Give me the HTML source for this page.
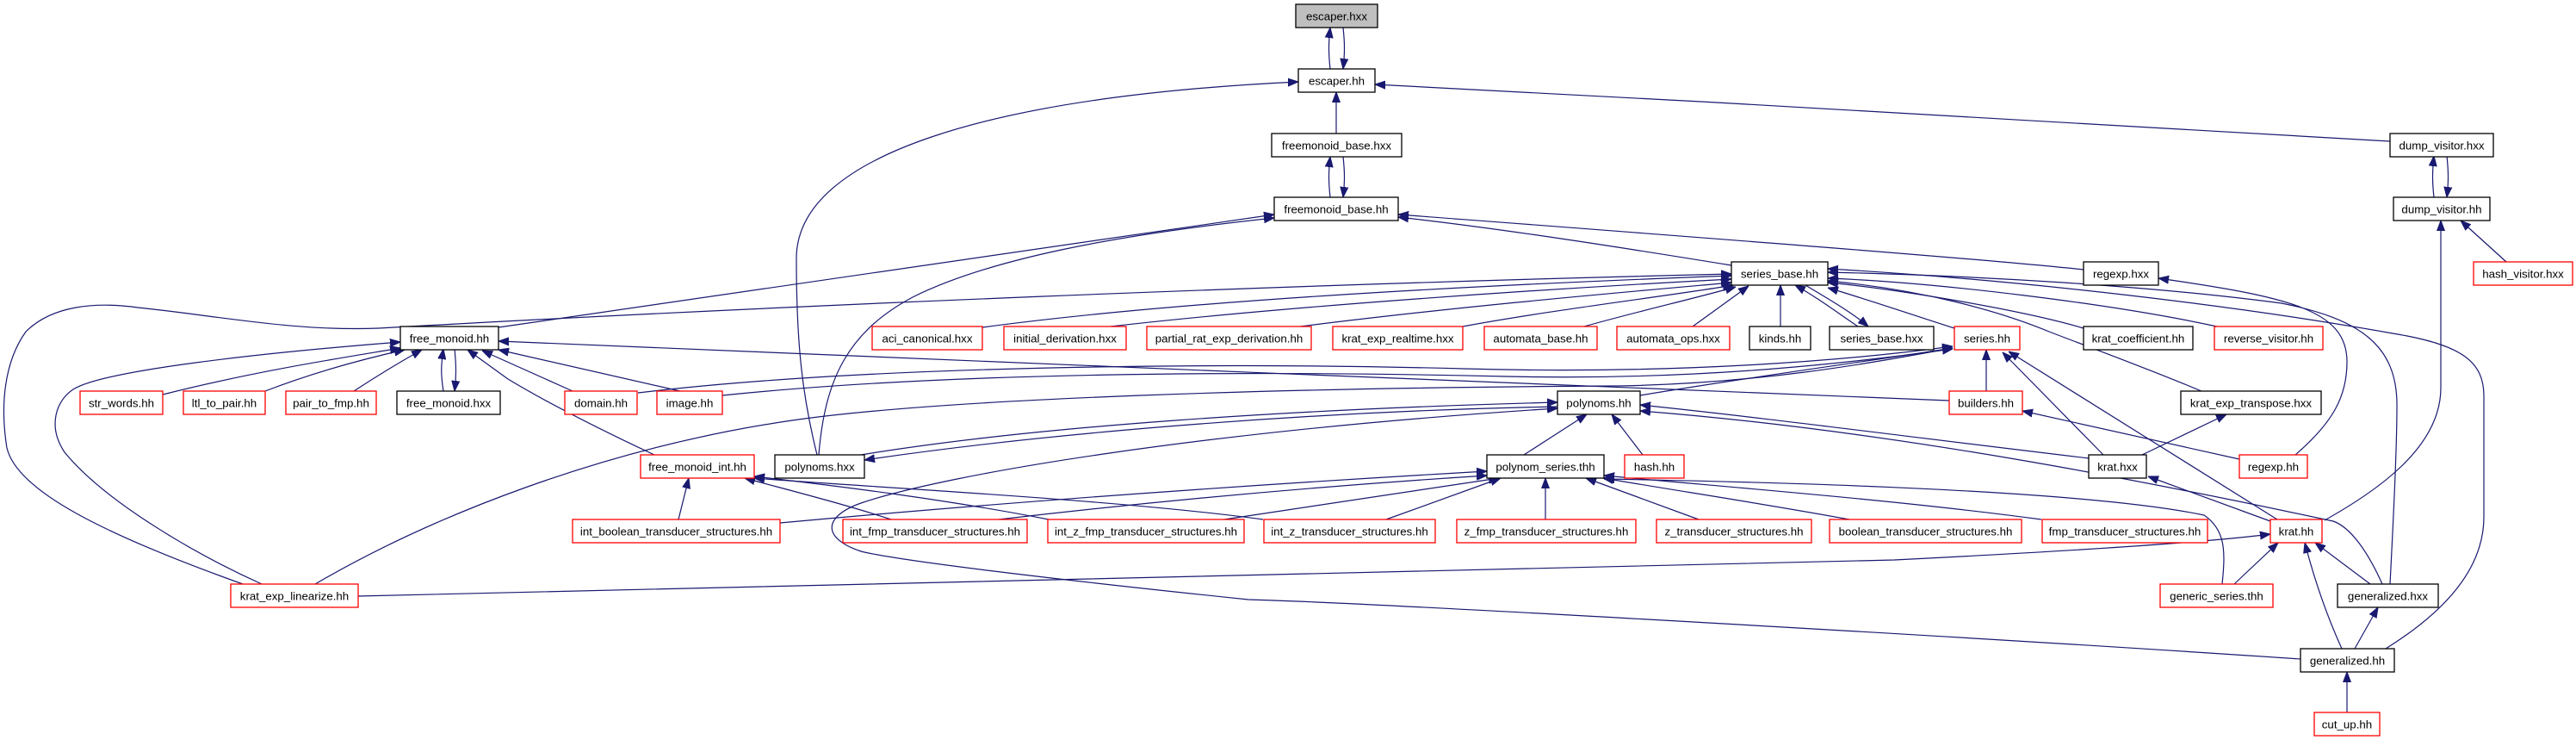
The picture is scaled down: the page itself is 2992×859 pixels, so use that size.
<!DOCTYPE html>
<html><head><meta charset="utf-8">
<style>
html,body{margin:0;padding:0;background:#fff;}
svg{display:block;}
text{font-family:"Liberation Sans",Arial,sans-serif;font-size:13.3px;fill:#000;text-anchor:middle;}
.e{fill:none;stroke:#191970;stroke-width:1.2;marker-end:url(#a);}
.b{fill:#fff;stroke:#000;stroke-width:1.3;}
.r{fill:#fff;stroke:#ff0000;stroke-width:1.3;}
</style></head><body>
<svg width="2992" height="859" viewBox="0 0 2992 859" xmlns="http://www.w3.org/2000/svg">
<defs><marker id="a" markerWidth="12" markerHeight="10" refX="12" refY="5" orient="auto" markerUnits="userSpaceOnUse"><path d="M0,0.5 L12,5 L0,9.5 z" fill="#191970" stroke="#191970" stroke-width="1"/></marker></defs>
<rect width="2992" height="859" fill="#fff"/>
<g>
<path class="e" d="M1545,80 C1543,62 1543,50 1545,32"/>
<path class="e" d="M1560,32 C1562,50 1562,62 1560,80"/>
<path class="e" d="M1552,155 L1552,107"/>
<path class="e" d="M949,528 C932,460 925,400 925,300 C925,180 1150,112 1508,95"/>
<path class="e" d="M1545,229 C1543,211 1543,200 1545,182"/>
<path class="e" d="M1560,182 C1562,200 1562,211 1560,229"/>
<path class="e" d="M2776,164 C2500,148 2000,118 1597,98"/>
<path class="e" d="M2827,229 C2825,211 2825,200 2827,181"/>
<path class="e" d="M2842,181 C2844,200 2844,211 2842,229"/>
<path class="e" d="M2911,304 L2858,256"/>
<path class="e" d="M2700,604 C2760,570 2835,520 2835,450 L2835,256"/>
<path class="e" d="M2666,528 C2710,490 2726,460 2726,420 C2726,360 2660,345 2507,323"/>
<path class="e" d="M579,380 L1480,249"/>
<path class="e" d="M951,528 C958,440 985,385 1060,345 C1150,300 1300,272 1480,253"/>
<path class="e" d="M2011,308 C1900,290 1750,266 1624,252"/>
<path class="e" d="M2420,313 C2300,300 1900,270 1624,249"/>
<path class="e" d="M515,454 C512,435 512,425 515,405"/>
<path class="e" d="M528,405 C530,425 530,435 528,454"/>
<path class="e" d="M189,458 C300,430 400,415 465,404"/>
<path class="e" d="M308,454 C370,430 430,415 470,406"/>
<path class="e" d="M411,454 C440,435 465,420 490,406"/>
<path class="e" d="M304,678 C220,640 120,580 75,525 C55,495 65,465 85,452 C120,430 300,410 465,397"/>
<path class="e" d="M282,678 C120,620 20,570 8,520 C0,470 5,420 30,385 C60,355 110,350 160,357 C250,366 340,385 440,381 C900,355 1500,330 2011,318"/>
<path class="e" d="M366,678 C500,600 700,520 920,488 C1100,462 1500,450 1880,448 C2050,445 2180,420 2268,404"/>
<path class="e" d="M741,456 C1000,425 1400,420 1700,428 C1950,435 2150,418 2268,402"/>
<path class="e" d="M839,459 C1100,432 1450,430 1750,437 C1980,442 2160,420 2268,405"/>
<path class="e" d="M1905,459 C2050,435 2180,418 2268,404"/>
<path class="e" d="M790,454 L579,406"/>
<path class="e" d="M665,454 L560,407"/>
<path class="e" d="M760,528 C700,500 640,470 590,440 L543,406"/>
<path class="e" d="M2264,465 C1800,450 1000,410 579,396"/>
<path class="e" d="M1141,380 C1400,345 1800,328 2011,320"/>
<path class="e" d="M1290,379 C1500,355 1800,335 2011,324"/>
<path class="e" d="M1510,379 C1700,355 1900,338 2011,328"/>
<path class="e" d="M1699,379 C1800,360 1950,342 2013,331"/>
<path class="e" d="M1840,379 C1900,362 1970,346 2016,333"/>
<path class="e" d="M1966,379 L2031,332"/>
<path class="e" d="M2068,379 L2068,331"/>
<path class="e" d="M2158,379 C2130,360 2110,345 2085,331"/>
<path class="e" d="M2097,331 C2125,348 2150,362 2170,379"/>
<path class="e" d="M2270,381 C2220,365 2170,348 2123,334"/>
<path class="e" d="M2420,381 C2350,360 2200,335 2123,328"/>
<path class="e" d="M2575,379 C2450,352 2250,328 2123,323"/>
<path class="e" d="M2557,454 C2500,430 2440,408 2380,385 C2320,360 2230,336 2123,326"/>
<path class="e" d="M2776,678 C2780,600 2784,520 2784,470 C2784,400 2740,370 2650,352 C2500,332 2300,320 2123,316"/>
<path class="e" d="M2771,753 C2840,710 2885,660 2885,600 L2885,460 C2885,420 2860,400 2779,387 C2600,355 2350,325 2123,312"/>
<path class="e" d="M2307,454 L2307,406"/>
<path class="e" d="M2443,528 L2326,409"/>
<path class="e" d="M2645,603 L2333,408"/>
<path class="e" d="M1000,528 C1200,495 1500,475 1809,467"/>
<path class="e" d="M1809,472 C1500,478 1200,505 1004,534"/>
<path class="e" d="M2672,765 C2300,740 1600,700 1450,696 C1200,670 1040,650 1000,640 C955,625 955,600 1000,584 C1100,550 1400,500 1809,474"/>
<path class="e" d="M1770,528 L1843,481"/>
<path class="e" d="M1908,528 L1872,481"/>
<path class="e" d="M2426,532 C2200,505 2050,485 1905,470"/>
<path class="e" d="M2767,678 C2750,640 2730,612 2710,605 C2500,560 2200,500 1905,477"/>
<path class="e" d="M906,607 C1200,580 1500,560 1727,547"/>
<path class="e" d="M1160,603 C1400,575 1600,560 1727,552"/>
<path class="e" d="M1422,603 L1741,555"/>
<path class="e" d="M1610,603 L1743,555"/>
<path class="e" d="M1795,603 L1795,555"/>
<path class="e" d="M1973,603 L1842,555"/>
<path class="e" d="M2148,603 C2050,585 1950,570 1862,555"/>
<path class="e" d="M2371,603 C2200,580 2000,565 1863,552"/>
<path class="e" d="M2581,678 C2585,640 2585,615 2560,598 C2450,575 2200,562 1863,556"/>
<path class="e" d="M788,603 L800,555"/>
<path class="e" d="M1035,603 C980,585 920,570 865,555"/>
<path class="e" d="M1218,603 C1100,580 980,565 876,553"/>
<path class="e" d="M1467,603 C1300,580 1000,565 876,555"/>
<path class="e" d="M416,692 C900,685 1500,670 2200,650 C2400,640 2560,630 2637,620"/>
<path class="e" d="M2595,678 L2646,630"/>
<path class="e" d="M2720,753 C2705,720 2690,680 2677,630"/>
<path class="e" d="M2753,678 L2689,630"/>
<path class="e" d="M2637,605 L2495,553"/>
<path class="e" d="M2488,528 L2586,481"/>
<path class="e" d="M2601,533 L2349,477"/>
<path class="e" d="M2735,753 L2762,705"/>
<path class="e" d="M2726,827 L2726,780"/>
</g>
<g>
<rect x="1505" y="5" width="95" height="27" fill="#bfbfbf" stroke="#000" stroke-width="1.3"/><text x="1552.5" y="23.5">escaper.hxx</text>
<rect class="b" x="1508" y="80" width="89" height="27"/><text x="1552.5" y="98.5">escaper.hh</text>
<rect class="b" x="1477" y="155" width="151" height="27"/><text x="1552.5" y="173.5">freemonoid_base.hxx</text>
<rect class="b" x="2776" y="155" width="120" height="27"/><text x="2836" y="173.5">dump_visitor.hxx</text>
<rect class="b" x="1480" y="229" width="144" height="27"/><text x="1552" y="247.5">freemonoid_base.hh</text>
<rect class="b" x="2780" y="229" width="112" height="27"/><text x="2836" y="247.5">dump_visitor.hh</text>
<rect class="b" x="2011" y="304" width="112" height="27"/><text x="2067" y="322.5">series_base.hh</text>
<rect class="b" x="2420" y="304" width="87" height="27"/><text x="2463.5" y="322.5">regexp.hxx</text>
<rect class="r" x="2873" y="304" width="115" height="27"/><text x="2930.5" y="322.5">hash_visitor.hxx</text>

<rect class="b" x="465" y="379" width="114" height="27"/><text x="522" y="397.5">free_monoid.hh</text>
<rect class="r" x="1013" y="379" width="128" height="27"/><text x="1077" y="397.5">aci_canonical.hxx</text>
<rect class="r" x="1166" y="379" width="142" height="27"/><text x="1237" y="397.5">initial_derivation.hxx</text>
<rect class="r" x="1332" y="379" width="191" height="27"/><text x="1427.5" y="397.5">partial_rat_exp_derivation.hh</text>
<rect class="r" x="1548" y="379" width="151" height="27"/><text x="1623.5" y="397.5">krat_exp_realtime.hxx</text>
<rect class="r" x="1724" y="379" width="131" height="27"/><text x="1789.5" y="397.5">automata_base.hh</text>
<rect class="r" x="1878" y="379" width="131" height="27"/><text x="1943.5" y="397.5">automata_ops.hxx</text>
<rect class="b" x="2032" y="379" width="71" height="27"/><text x="2067.5" y="397.5">kinds.hh</text>
<rect class="b" x="2125" y="379" width="121" height="27"/><text x="2185.5" y="397.5">series_base.hxx</text>
<rect class="r" x="2270" y="379" width="76" height="27"/><text x="2308" y="397.5">series.hh</text>
<rect class="b" x="2420" y="379" width="127" height="27"/><text x="2483.5" y="397.5">krat_coefficient.hh</text>
<rect class="r" x="2572" y="379" width="126" height="27"/><text x="2635" y="397.5">reverse_visitor.hh</text>

<rect class="r" x="93" y="454" width="96" height="27"/><text x="141" y="472.5">str_words.hh</text>
<rect class="r" x="213" y="454" width="95" height="27"/><text x="260.5" y="472.5">ltl_to_pair.hh</text>
<rect class="r" x="332" y="454" width="105" height="27"/><text x="384.5" y="472.5">pair_to_fmp.hh</text>
<rect class="b" x="461" y="454" width="120" height="27"/><text x="521" y="472.5">free_monoid.hxx</text>
<rect class="r" x="656" y="454" width="84" height="27"/><text x="698" y="472.5">domain.hh</text>
<rect class="r" x="763" y="454" width="76" height="27"/><text x="801" y="472.5">image.hh</text>
<rect class="b" x="1809" y="454" width="96" height="27"/><text x="1857" y="472.5">polynoms.hh</text>
<rect class="r" x="2264" y="454" width="85" height="27"/><text x="2306.5" y="472.5">builders.hh</text>
<rect class="b" x="2533" y="454" width="163" height="27"/><text x="2614.5" y="472.5">krat_exp_transpose.hxx</text>

<rect class="r" x="744" y="528" width="132" height="27"/><text x="810" y="546.5">free_monoid_int.hh</text>
<rect class="b" x="900" y="528" width="104" height="27"/><text x="952" y="546.5">polynoms.hxx</text>
<rect class="b" x="1727" y="528" width="136" height="27"/><text x="1795" y="546.5">polynom_series.thh</text>
<rect class="r" x="1887" y="528" width="69" height="27"/><text x="1921.5" y="546.5">hash.hh</text>
<rect class="b" x="2426" y="528" width="67" height="27"/><text x="2459.5" y="546.5">krat.hxx</text>
<rect class="r" x="2601" y="528" width="79" height="27"/><text x="2640.5" y="546.5">regexp.hh</text>

<rect class="r" x="665" y="603" width="241" height="27"/><text x="785.5" y="621.5">int_boolean_transducer_structures.hh</text>
<rect class="r" x="979" y="603" width="214" height="27"/><text x="1086" y="621.5">int_fmp_transducer_structures.hh</text>
<rect class="r" x="1217" y="603" width="228" height="27"/><text x="1331" y="621.5">int_z_fmp_transducer_structures.hh</text>
<rect class="r" x="1468" y="603" width="199" height="27"/><text x="1567.5" y="621.5">int_z_transducer_structures.hh</text>
<rect class="r" x="1692" y="603" width="208" height="27"/><text x="1796" y="621.5">z_fmp_transducer_structures.hh</text>
<rect class="r" x="1924" y="603" width="180" height="27"/><text x="2014" y="621.5">z_transducer_structures.hh</text>
<rect class="r" x="2125" y="603" width="223" height="27"/><text x="2236.5" y="621.5">boolean_transducer_structures.hh</text>
<rect class="r" x="2372" y="603" width="192" height="27"/><text x="2468" y="621.5">fmp_transducer_structures.hh</text>
<rect class="r" x="2637" y="603" width="60" height="27"/><text x="2667" y="621.5">krat.hh</text>

<rect class="r" x="268" y="678" width="148" height="27"/><text x="342" y="696.5">krat_exp_linearize.hh</text>
<rect class="r" x="2509" y="678" width="131" height="27"/><text x="2574.5" y="696.5">generic_series.thh</text>
<rect class="b" x="2715" y="678" width="117" height="27"/><text x="2773.5" y="696.5">generalized.hxx</text>

<rect class="b" x="2672" y="753" width="109" height="27"/><text x="2726.5" y="771.5">generalized.hh</text>
<rect class="r" x="2688" y="827" width="76" height="27"/><text x="2726" y="845.5">cut_up.hh</text>
</g>
</svg>
</body></html>
